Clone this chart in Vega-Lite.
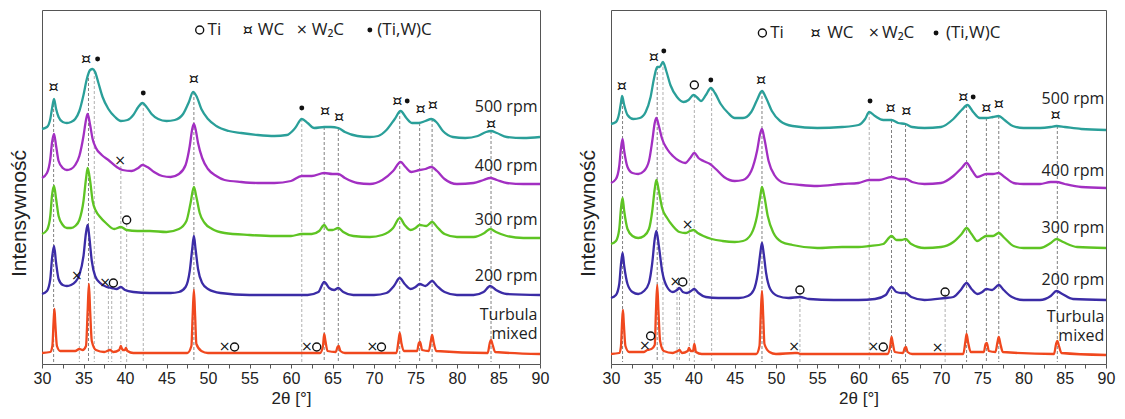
{
"$schema": "https://vega.github.io/schema/vega-lite/v6.json",
"background": "white",
"padding": {"left": 7, "top": 9, "right": 5, "bottom": 5},
"spacing": 26,
"config": {
  "view": {"stroke": "#555", "strokeWidth": 1},
  "font": "Liberation Sans",
  "axisX": {"labelFont": "Liberation Sans", "labelFontSize": 16, "labelColor": "#222", "titleFont": "Liberation Sans", "titleFontSize": 17, "titleFontWeight": "normal", "titleColor": "#222", "tickColor": "#555", "tickSize": 4, "labelPadding": 2, "titlePadding": 4, "domain": false, "grid": false, "labelFlush": false, "labelOverlap": false},
  "axisY": {"titleFont": "Liberation Sans", "titleFontSize": 21, "titleFontWeight": "normal", "titleColor": "#222", "titlePadding": 13, "titleY": 203, "labels": false, "ticks": false, "domain": false, "grid": false}
},
"datasets": {
"L": [
{"s":"500","x":30.0,"y":235},{"s":"500","x":30.6,"y":237},{"s":"500","x":31.0,"y":245},{"s":"500","x":31.2,"y":255},{"s":"500","x":31.45,"y":265},{"s":"500","x":31.7,"y":255},{"s":"500","x":32.0,"y":247},{"s":"500","x":32.5,"y":242},{"s":"500","x":33.0,"y":241},{"s":"500","x":33.5,"y":242},{"s":"500","x":34.0,"y":245},{"s":"500","x":34.5,"y":253},{"s":"500","x":35.0,"y":269},{"s":"500","x":35.4,"y":285},{"s":"500","x":35.8,"y":294},{"s":"500","x":36.1,"y":295},{"s":"500","x":36.4,"y":292},{"s":"500","x":36.8,"y":281},{"s":"500","x":37.3,"y":267},{"s":"500","x":38.0,"y":255},{"s":"500","x":38.8,"y":247},{"s":"500","x":39.5,"y":243},{"s":"500","x":40.3,"y":244},{"s":"500","x":41.0,"y":249},{"s":"500","x":41.6,"y":257},{"s":"500","x":42.1,"y":261},{"s":"500","x":42.6,"y":257},{"s":"500","x":43.2,"y":250},{"s":"500","x":44.0,"y":245},{"s":"500","x":45.0,"y":243},{"s":"500","x":46.0,"y":244},{"s":"500","x":47.0,"y":250},{"s":"500","x":47.7,"y":262},{"s":"500","x":48.2,"y":272},{"s":"500","x":48.6,"y":268},{"s":"500","x":49.2,"y":255},{"s":"500","x":50.0,"y":245},{"s":"500","x":51.0,"y":238},{"s":"500","x":52.5,"y":233},{"s":"500","x":54.0,"y":231},{"s":"500","x":56.0,"y":229},{"s":"500","x":58.0,"y":228},{"s":"500","x":59.5,"y":229},{"s":"500","x":60.5,"y":236},{"s":"500","x":61.3,"y":245},{"s":"500","x":62.0,"y":241},{"s":"500","x":62.8,"y":236},{"s":"500","x":64.0,"y":237},{"s":"500","x":64.8,"y":237},{"s":"500","x":65.7,"y":236},{"s":"500","x":66.5,"y":232},{"s":"500","x":68.0,"y":228},{"s":"500","x":69.5,"y":227},{"s":"500","x":70.5,"y":228},{"s":"500","x":71.5,"y":234},{"s":"500","x":72.5,"y":245},{"s":"500","x":73.2,"y":253},{"s":"500","x":73.9,"y":246},{"s":"500","x":74.6,"y":241},{"s":"500","x":75.4,"y":241},{"s":"500","x":76.2,"y":243},{"s":"500","x":76.9,"y":245},{"s":"500","x":77.5,"y":242},{"s":"500","x":78.3,"y":233},{"s":"500","x":79.5,"y":227},{"s":"500","x":81.0,"y":226},{"s":"500","x":82.5,"y":228},{"s":"500","x":83.5,"y":232},{"s":"500","x":84.1,"y":233},{"s":"500","x":84.8,"y":231},{"s":"500","x":86.0,"y":227},{"s":"500","x":88.0,"y":226},{"s":"500","x":90.0,"y":227},
{"s":"400","x":30.0,"y":186},{"s":"400","x":30.6,"y":191},{"s":"400","x":31.0,"y":205},{"s":"400","x":31.2,"y":221},{"s":"400","x":31.45,"y":230},{"s":"400","x":31.7,"y":218},{"s":"400","x":32.0,"y":203},{"s":"400","x":32.5,"y":196},{"s":"400","x":33.0,"y":194},{"s":"400","x":33.5,"y":195},{"s":"400","x":34.0,"y":199},{"s":"400","x":34.5,"y":208},{"s":"400","x":35.0,"y":228},{"s":"400","x":35.3,"y":244},{"s":"400","x":35.5,"y":250},{"s":"400","x":35.8,"y":239},{"s":"400","x":36.1,"y":225},{"s":"400","x":36.5,"y":216},{"s":"400","x":37.2,"y":209},{"s":"400","x":38.0,"y":204},{"s":"400","x":39.0,"y":197},{"s":"400","x":39.7,"y":194},{"s":"400","x":40.8,"y":193},{"s":"400","x":41.6,"y":196},{"s":"400","x":42.1,"y":199},{"s":"400","x":42.7,"y":197},{"s":"400","x":43.5,"y":192},{"s":"400","x":44.5,"y":188},{"s":"400","x":45.5,"y":187},{"s":"400","x":46.5,"y":190},{"s":"400","x":47.3,"y":199},{"s":"400","x":47.8,"y":218},{"s":"400","x":48.1,"y":235},{"s":"400","x":48.3,"y":240},{"s":"400","x":48.5,"y":235},{"s":"400","x":48.8,"y":221},{"s":"400","x":49.3,"y":206},{"s":"400","x":50.0,"y":195},{"s":"400","x":51.0,"y":188},{"s":"400","x":52.0,"y":184},{"s":"400","x":54.0,"y":182},{"s":"400","x":56.0,"y":181},{"s":"400","x":58.0,"y":181},{"s":"400","x":60.0,"y":183},{"s":"400","x":61.3,"y":188},{"s":"400","x":62.5,"y":188},{"s":"400","x":64.0,"y":191},{"s":"400","x":65.0,"y":190},{"s":"400","x":65.7,"y":190},{"s":"400","x":66.5,"y":186},{"s":"400","x":68.0,"y":181},{"s":"400","x":69.5,"y":180},{"s":"400","x":71.0,"y":184},{"s":"400","x":72.3,"y":193},{"s":"400","x":73.2,"y":202},{"s":"400","x":73.8,"y":197},{"s":"400","x":74.5,"y":192},{"s":"400","x":75.5,"y":194},{"s":"400","x":76.2,"y":195},{"s":"400","x":76.9,"y":197},{"s":"400","x":77.6,"y":193},{"s":"400","x":78.5,"y":185},{"s":"400","x":80.0,"y":180},{"s":"400","x":82.0,"y":181},{"s":"400","x":83.2,"y":184},{"s":"400","x":84.0,"y":186},{"s":"400","x":84.8,"y":184},{"s":"400","x":86.0,"y":181},{"s":"400","x":88.0,"y":180},{"s":"400","x":90.0,"y":180},
{"s":"300","x":30.0,"y":130},{"s":"300","x":30.6,"y":134},{"s":"300","x":31.0,"y":148},{"s":"300","x":31.2,"y":168},{"s":"300","x":31.45,"y":178},{"s":"300","x":31.7,"y":165},{"s":"300","x":32.0,"y":148},{"s":"300","x":32.5,"y":139},{"s":"300","x":33.0,"y":136},{"s":"300","x":33.5,"y":136},{"s":"300","x":34.0,"y":138},{"s":"300","x":34.5,"y":144},{"s":"300","x":35.0,"y":163},{"s":"300","x":35.3,"y":185},{"s":"300","x":35.5,"y":196},{"s":"300","x":35.8,"y":183},{"s":"300","x":36.1,"y":163},{"s":"300","x":36.5,"y":153},{"s":"300","x":37.0,"y":147},{"s":"300","x":37.7,"y":141},{"s":"300","x":38.7,"y":135},{"s":"300","x":39.5,"y":137},{"s":"300","x":40.2,"y":134},{"s":"300","x":41.5,"y":133},{"s":"300","x":43.0,"y":133},{"s":"300","x":45.0,"y":132},{"s":"300","x":46.5,"y":135},{"s":"300","x":47.4,"y":143},{"s":"300","x":47.9,"y":161},{"s":"300","x":48.3,"y":177},{"s":"300","x":48.6,"y":167},{"s":"300","x":49.0,"y":151},{"s":"300","x":49.6,"y":141},{"s":"300","x":50.5,"y":135},{"s":"300","x":52.0,"y":131},{"s":"300","x":55.0,"y":129},{"s":"300","x":58.0,"y":128},{"s":"300","x":60.0,"y":128},{"s":"300","x":61.3,"y":130},{"s":"300","x":62.5,"y":130},{"s":"300","x":63.4,"y":133},{"s":"300","x":64.0,"y":139},{"s":"300","x":64.5,"y":134},{"s":"300","x":65.0,"y":134},{"s":"300","x":65.7,"y":136},{"s":"300","x":66.3,"y":132},{"s":"300","x":67.5,"y":128},{"s":"300","x":69.5,"y":127},{"s":"300","x":71.0,"y":129},{"s":"300","x":72.3,"y":136},{"s":"300","x":73.1,"y":146},{"s":"300","x":73.7,"y":139},{"s":"300","x":74.4,"y":134},{"s":"300","x":75.0,"y":136},{"s":"300","x":75.5,"y":139},{"s":"300","x":76.3,"y":138},{"s":"300","x":77.0,"y":142},{"s":"300","x":77.6,"y":137},{"s":"300","x":78.5,"y":130},{"s":"300","x":80.0,"y":127},{"s":"300","x":82.0,"y":127},{"s":"300","x":83.3,"y":131},{"s":"300","x":84.0,"y":135},{"s":"300","x":84.7,"y":132},{"s":"300","x":86.0,"y":128},{"s":"300","x":88.0,"y":126},{"s":"300","x":90.0,"y":126},
{"s":"200","x":30.0,"y":70},{"s":"200","x":30.6,"y":73},{"s":"200","x":31.0,"y":85},{"s":"200","x":31.2,"y":105},{"s":"200","x":31.45,"y":118},{"s":"200","x":31.7,"y":101},{"s":"200","x":32.0,"y":85},{"s":"200","x":32.5,"y":79},{"s":"200","x":33.0,"y":78},{"s":"200","x":33.5,"y":79},{"s":"200","x":34.0,"y":82},{"s":"200","x":34.5,"y":89},{"s":"200","x":35.0,"y":108},{"s":"200","x":35.3,"y":131},{"s":"200","x":35.5,"y":139},{"s":"200","x":35.7,"y":127},{"s":"200","x":36.0,"y":103},{"s":"200","x":36.4,"y":88},{"s":"200","x":37.0,"y":81},{"s":"200","x":37.8,"y":77},{"s":"200","x":38.4,"y":76},{"s":"200","x":39.0,"y":75},{"s":"200","x":39.5,"y":77},{"s":"200","x":40.0,"y":74},{"s":"200","x":41.0,"y":72},{"s":"200","x":43.0,"y":71},{"s":"200","x":45.5,"y":71},{"s":"200","x":46.5,"y":72},{"s":"200","x":47.3,"y":77},{"s":"200","x":47.8,"y":93},{"s":"200","x":48.1,"y":115},{"s":"200","x":48.3,"y":128},{"s":"200","x":48.5,"y":115},{"s":"200","x":48.8,"y":95},{"s":"200","x":49.3,"y":81},{"s":"200","x":50.0,"y":75},{"s":"200","x":51.5,"y":71},{"s":"200","x":55.0,"y":69},{"s":"200","x":60.0,"y":69},{"s":"200","x":62.0,"y":69},{"s":"200","x":63.3,"y":72},{"s":"200","x":64.0,"y":82},{"s":"200","x":64.6,"y":76},{"s":"200","x":65.2,"y":74},{"s":"200","x":65.7,"y":76},{"s":"200","x":66.3,"y":72},{"s":"200","x":67.5,"y":69},{"s":"200","x":70.0,"y":69},{"s":"200","x":71.5,"y":71},{"s":"200","x":72.4,"y":78},{"s":"200","x":73.1,"y":86},{"s":"200","x":73.7,"y":80},{"s":"200","x":74.4,"y":75},{"s":"200","x":75.0,"y":77},{"s":"200","x":75.5,"y":80},{"s":"200","x":76.2,"y":78},{"s":"200","x":77.0,"y":83},{"s":"200","x":77.6,"y":78},{"s":"200","x":78.5,"y":72},{"s":"200","x":80.0,"y":69},{"s":"200","x":82.0,"y":69},{"s":"200","x":83.2,"y":72},{"s":"200","x":84.0,"y":78},{"s":"200","x":84.7,"y":74},{"s":"200","x":86.0,"y":70},{"s":"200","x":90.0,"y":69},
{"s":"T","x":30.0,"y":11},{"s":"T","x":31.0,"y":12},{"s":"T","x":31.25,"y":18},{"s":"T","x":31.4,"y":43},{"s":"T","x":31.5,"y":55},{"s":"T","x":31.6,"y":41},{"s":"T","x":31.8,"y":18},{"s":"T","x":32.2,"y":13},{"s":"T","x":34.0,"y":13},{"s":"T","x":34.5,"y":15},{"s":"T","x":34.9,"y":14},{"s":"T","x":35.3,"y":18},{"s":"T","x":35.5,"y":53},{"s":"T","x":35.65,"y":80},{"s":"T","x":35.8,"y":53},{"s":"T","x":36.0,"y":23},{"s":"T","x":36.5,"y":14},{"s":"T","x":37.5,"y":12},{"s":"T","x":38.2,"y":14},{"s":"T","x":38.6,"y":12},{"s":"T","x":39.3,"y":14},{"s":"T","x":39.5,"y":18},{"s":"T","x":39.7,"y":14},{"s":"T","x":40.0,"y":14},{"s":"T","x":40.1,"y":16},{"s":"T","x":40.3,"y":13},{"s":"T","x":41.0,"y":11},{"s":"T","x":47.5,"y":11},{"s":"T","x":48.0,"y":18},{"s":"T","x":48.15,"y":48},{"s":"T","x":48.3,"y":74},{"s":"T","x":48.45,"y":48},{"s":"T","x":48.6,"y":20},{"s":"T","x":49.2,"y":13},{"s":"T","x":50.0,"y":11},{"s":"T","x":63.5,"y":11},{"s":"T","x":63.85,"y":18},{"s":"T","x":64.0,"y":30},{"s":"T","x":64.15,"y":23},{"s":"T","x":64.4,"y":13},{"s":"T","x":65.4,"y":12},{"s":"T","x":65.6,"y":17},{"s":"T","x":65.75,"y":18},{"s":"T","x":65.95,"y":13},{"s":"T","x":66.5,"y":11},{"s":"T","x":72.7,"y":11},{"s":"T","x":72.95,"y":23},{"s":"T","x":73.1,"y":31},{"s":"T","x":73.3,"y":21},{"s":"T","x":73.6,"y":13},{"s":"T","x":75.2,"y":13},{"s":"T","x":75.4,"y":21},{"s":"T","x":75.55,"y":22},{"s":"T","x":75.8,"y":14},{"s":"T","x":76.6,"y":13},{"s":"T","x":76.85,"y":23},{"s":"T","x":77.0,"y":29},{"s":"T","x":77.2,"y":21},{"s":"T","x":77.5,"y":13},{"s":"T","x":83.7,"y":11},{"s":"T","x":83.95,"y":21},{"s":"T","x":84.1,"y":24},{"s":"T","x":84.3,"y":19},{"s":"T","x":84.6,"y":12},{"s":"T","x":90.0,"y":10}
],
"R": [
{"s":"500","x":30.0,"y":240},{"s":"500","x":30.6,"y":242},{"s":"500","x":31.0,"y":251},{"s":"500","x":31.2,"y":261},{"s":"500","x":31.35,"y":268},{"s":"500","x":31.6,"y":259},{"s":"500","x":32.0,"y":249},{"s":"500","x":32.7,"y":245},{"s":"500","x":33.5,"y":246},{"s":"500","x":34.2,"y":252},{"s":"500","x":34.8,"y":267},{"s":"500","x":35.2,"y":285},{"s":"500","x":35.6,"y":297},{"s":"500","x":35.9,"y":297},{"s":"500","x":36.3,"y":302},{"s":"500","x":36.7,"y":293},{"s":"500","x":37.2,"y":279},{"s":"500","x":38.0,"y":267},{"s":"500","x":38.8,"y":262},{"s":"500","x":39.4,"y":264},{"s":"500","x":40.0,"y":269},{"s":"500","x":40.5,"y":266},{"s":"500","x":40.9,"y":263},{"s":"500","x":41.5,"y":269},{"s":"500","x":42.1,"y":276},{"s":"500","x":42.6,"y":271},{"s":"500","x":43.3,"y":260},{"s":"500","x":44.2,"y":251},{"s":"500","x":45.0,"y":246},{"s":"500","x":46.0,"y":246},{"s":"500","x":47.0,"y":252},{"s":"500","x":47.7,"y":264},{"s":"500","x":48.3,"y":273},{"s":"500","x":48.8,"y":266},{"s":"500","x":49.5,"y":253},{"s":"500","x":50.5,"y":243},{"s":"500","x":52.0,"y":238},{"s":"500","x":55.0,"y":236},{"s":"500","x":58.0,"y":237},{"s":"500","x":60.0,"y":239},{"s":"500","x":60.8,"y":245},{"s":"500","x":61.3,"y":252},{"s":"500","x":62.0,"y":248},{"s":"500","x":63.0,"y":244},{"s":"500","x":64.0,"y":244},{"s":"500","x":64.8,"y":241},{"s":"500","x":65.7,"y":240},{"s":"500","x":66.5,"y":237},{"s":"500","x":68.0,"y":236},{"s":"500","x":70.0,"y":237},{"s":"500","x":71.5,"y":245},{"s":"500","x":72.5,"y":254},{"s":"500","x":73.2,"y":259},{"s":"500","x":73.9,"y":252},{"s":"500","x":74.7,"y":246},{"s":"500","x":75.5,"y":246},{"s":"500","x":76.3,"y":247},{"s":"500","x":77.0,"y":248},{"s":"500","x":77.7,"y":244},{"s":"500","x":78.7,"y":238},{"s":"500","x":80.0,"y":236},{"s":"500","x":82.0,"y":236},{"s":"500","x":83.3,"y":237},{"s":"500","x":84.0,"y":238},{"s":"500","x":85.0,"y":237},{"s":"500","x":87.0,"y":235},{"s":"500","x":90.0,"y":234},
{"s":"400","x":30.0,"y":181},{"s":"400","x":30.6,"y":185},{"s":"400","x":31.0,"y":198},{"s":"400","x":31.2,"y":215},{"s":"400","x":31.4,"y":225},{"s":"400","x":31.6,"y":213},{"s":"400","x":32.0,"y":197},{"s":"400","x":32.6,"y":191},{"s":"400","x":33.3,"y":190},{"s":"400","x":34.0,"y":193},{"s":"400","x":34.6,"y":203},{"s":"400","x":35.0,"y":223},{"s":"400","x":35.3,"y":241},{"s":"400","x":35.5,"y":246},{"s":"400","x":35.8,"y":238},{"s":"400","x":36.2,"y":225},{"s":"400","x":36.8,"y":215},{"s":"400","x":37.5,"y":208},{"s":"400","x":38.3,"y":203},{"s":"400","x":39.0,"y":201},{"s":"400","x":39.6,"y":206},{"s":"400","x":40.1,"y":211},{"s":"400","x":40.6,"y":206},{"s":"400","x":41.2,"y":203},{"s":"400","x":42.0,"y":200},{"s":"400","x":42.7,"y":195},{"s":"400","x":43.7,"y":187},{"s":"400","x":45.0,"y":183},{"s":"400","x":46.0,"y":184},{"s":"400","x":47.0,"y":193},{"s":"400","x":47.7,"y":213},{"s":"400","x":48.1,"y":231},{"s":"400","x":48.3,"y":235},{"s":"400","x":48.6,"y":225},{"s":"400","x":49.1,"y":203},{"s":"400","x":49.8,"y":189},{"s":"400","x":51.0,"y":181},{"s":"400","x":53.0,"y":179},{"s":"400","x":55.0,"y":178},{"s":"400","x":58.0,"y":180},{"s":"400","x":60.0,"y":181},{"s":"400","x":61.3,"y":184},{"s":"400","x":62.5,"y":184},{"s":"400","x":64.0,"y":187},{"s":"400","x":65.0,"y":185},{"s":"400","x":65.7,"y":185},{"s":"400","x":66.5,"y":182},{"s":"400","x":68.0,"y":180},{"s":"400","x":70.0,"y":181},{"s":"400","x":71.5,"y":188},{"s":"400","x":72.5,"y":196},{"s":"400","x":73.1,"y":201},{"s":"400","x":73.8,"y":193},{"s":"400","x":74.4,"y":187},{"s":"400","x":75.5,"y":190},{"s":"400","x":76.3,"y":190},{"s":"400","x":77.0,"y":191},{"s":"400","x":77.7,"y":187},{"s":"400","x":78.8,"y":181},{"s":"400","x":80.0,"y":180},{"s":"400","x":82.0,"y":180},{"s":"400","x":83.3,"y":182},{"s":"400","x":84.0,"y":182},{"s":"400","x":85.0,"y":180},{"s":"400","x":87.0,"y":177},{"s":"400","x":90.0,"y":176},
{"s":"300","x":30.0,"y":120},{"s":"300","x":30.6,"y":123},{"s":"300","x":31.0,"y":135},{"s":"300","x":31.2,"y":155},{"s":"300","x":31.4,"y":166},{"s":"300","x":31.6,"y":153},{"s":"300","x":32.0,"y":135},{"s":"300","x":32.6,"y":128},{"s":"300","x":33.3,"y":126},{"s":"300","x":34.0,"y":128},{"s":"300","x":34.6,"y":135},{"s":"300","x":35.0,"y":153},{"s":"300","x":35.3,"y":175},{"s":"300","x":35.5,"y":184},{"s":"300","x":35.8,"y":173},{"s":"300","x":36.2,"y":156},{"s":"300","x":36.8,"y":146},{"s":"300","x":37.5,"y":138},{"s":"300","x":38.3,"y":132},{"s":"300","x":39.0,"y":131},{"s":"300","x":39.6,"y":133},{"s":"300","x":40.0,"y":134},{"s":"300","x":40.5,"y":131},{"s":"300","x":41.2,"y":128},{"s":"300","x":42.2,"y":125},{"s":"300","x":43.5,"y":123},{"s":"300","x":45.0,"y":122},{"s":"300","x":46.0,"y":123},{"s":"300","x":47.0,"y":130},{"s":"300","x":47.7,"y":148},{"s":"300","x":48.1,"y":168},{"s":"300","x":48.3,"y":177},{"s":"300","x":48.6,"y":167},{"s":"300","x":49.0,"y":148},{"s":"300","x":49.7,"y":131},{"s":"300","x":50.7,"y":122},{"s":"300","x":52.0,"y":119},{"s":"300","x":55.0,"y":116},{"s":"300","x":58.0,"y":117},{"s":"300","x":60.0,"y":117},{"s":"300","x":61.3,"y":118},{"s":"300","x":63.0,"y":120},{"s":"300","x":64.0,"y":128},{"s":"300","x":64.6,"y":124},{"s":"300","x":65.2,"y":124},{"s":"300","x":65.7,"y":125},{"s":"300","x":66.4,"y":120},{"s":"300","x":68.0,"y":116},{"s":"300","x":70.0,"y":117},{"s":"300","x":71.5,"y":122},{"s":"300","x":72.5,"y":130},{"s":"300","x":73.1,"y":136},{"s":"300","x":73.7,"y":130},{"s":"300","x":74.4,"y":123},{"s":"300","x":75.0,"y":126},{"s":"300","x":75.5,"y":128},{"s":"300","x":76.3,"y":128},{"s":"300","x":77.0,"y":131},{"s":"300","x":77.7,"y":126},{"s":"300","x":78.8,"y":118},{"s":"300","x":80.0,"y":116},{"s":"300","x":82.0,"y":116},{"s":"300","x":83.3,"y":121},{"s":"300","x":84.0,"y":125},{"s":"300","x":84.8,"y":122},{"s":"300","x":86.5,"y":117},{"s":"300","x":90.0,"y":116},
{"s":"200","x":30.0,"y":66},{"s":"200","x":30.6,"y":69},{"s":"200","x":31.0,"y":80},{"s":"200","x":31.2,"y":99},{"s":"200","x":31.4,"y":111},{"s":"200","x":31.6,"y":98},{"s":"200","x":32.0,"y":80},{"s":"200","x":32.6,"y":72},{"s":"200","x":33.3,"y":70},{"s":"200","x":34.0,"y":73},{"s":"200","x":34.6,"y":81},{"s":"200","x":35.0,"y":101},{"s":"200","x":35.3,"y":125},{"s":"200","x":35.5,"y":133},{"s":"200","x":35.8,"y":118},{"s":"200","x":36.2,"y":93},{"s":"200","x":36.8,"y":77},{"s":"200","x":37.5,"y":72},{"s":"200","x":38.0,"y":74},{"s":"200","x":38.3,"y":76},{"s":"200","x":38.7,"y":72},{"s":"200","x":39.2,"y":71},{"s":"200","x":39.7,"y":73},{"s":"200","x":40.1,"y":75},{"s":"200","x":40.6,"y":71},{"s":"200","x":41.5,"y":67},{"s":"200","x":43.0,"y":66},{"s":"200","x":45.5,"y":66},{"s":"200","x":46.6,"y":68},{"s":"200","x":47.3,"y":74},{"s":"200","x":47.8,"y":91},{"s":"200","x":48.1,"y":111},{"s":"200","x":48.3,"y":121},{"s":"200","x":48.5,"y":111},{"s":"200","x":48.8,"y":91},{"s":"200","x":49.3,"y":75},{"s":"200","x":50.2,"y":68},{"s":"200","x":51.5,"y":66},{"s":"200","x":52.9,"y":67},{"s":"200","x":54.0,"y":65},{"s":"200","x":57.0,"y":64},{"s":"200","x":60.0,"y":64},{"s":"200","x":62.0,"y":65},{"s":"200","x":63.3,"y":69},{"s":"200","x":64.0,"y":77},{"s":"200","x":64.6,"y":72},{"s":"200","x":65.2,"y":71},{"s":"200","x":65.7,"y":71},{"s":"200","x":66.4,"y":67},{"s":"200","x":68.0,"y":64},{"s":"200","x":70.5,"y":66},{"s":"200","x":71.5,"y":67},{"s":"200","x":72.4,"y":74},{"s":"200","x":73.1,"y":81},{"s":"200","x":73.7,"y":75},{"s":"200","x":74.4,"y":70},{"s":"200","x":75.0,"y":72},{"s":"200","x":75.5,"y":75},{"s":"200","x":76.2,"y":74},{"s":"200","x":77.0,"y":79},{"s":"200","x":77.6,"y":74},{"s":"200","x":78.6,"y":67},{"s":"200","x":80.0,"y":64},{"s":"200","x":82.0,"y":64},{"s":"200","x":83.3,"y":68},{"s":"200","x":84.0,"y":73},{"s":"200","x":84.7,"y":70},{"s":"200","x":86.0,"y":65},{"s":"200","x":90.0,"y":64},
{"s":"T","x":30.0,"y":10},{"s":"T","x":31.0,"y":11},{"s":"T","x":31.2,"y":17},{"s":"T","x":31.35,"y":43},{"s":"T","x":31.45,"y":54},{"s":"T","x":31.55,"y":41},{"s":"T","x":31.75,"y":18},{"s":"T","x":32.2,"y":12},{"s":"T","x":34.0,"y":12},{"s":"T","x":34.4,"y":14},{"s":"T","x":34.9,"y":15},{"s":"T","x":35.3,"y":19},{"s":"T","x":35.45,"y":53},{"s":"T","x":35.6,"y":79},{"s":"T","x":35.75,"y":53},{"s":"T","x":35.95,"y":23},{"s":"T","x":36.4,"y":13},{"s":"T","x":37.5,"y":11},{"s":"T","x":38.1,"y":13},{"s":"T","x":38.3,"y":14},{"s":"T","x":38.6,"y":11},{"s":"T","x":39.3,"y":13},{"s":"T","x":39.45,"y":16},{"s":"T","x":39.65,"y":13},{"s":"T","x":39.95,"y":13},{"s":"T","x":40.1,"y":20},{"s":"T","x":40.3,"y":12},{"s":"T","x":41.0,"y":10},{"s":"T","x":47.6,"y":10},{"s":"T","x":48.0,"y":18},{"s":"T","x":48.15,"y":48},{"s":"T","x":48.3,"y":73},{"s":"T","x":48.45,"y":48},{"s":"T","x":48.6,"y":20},{"s":"T","x":49.2,"y":12},{"s":"T","x":50.0,"y":10},{"s":"T","x":52.3,"y":11},{"s":"T","x":52.6,"y":11},{"s":"T","x":53.0,"y":10},{"s":"T","x":63.5,"y":10},{"s":"T","x":63.85,"y":18},{"s":"T","x":64.0,"y":27},{"s":"T","x":64.15,"y":21},{"s":"T","x":64.4,"y":12},{"s":"T","x":65.4,"y":11},{"s":"T","x":65.6,"y":16},{"s":"T","x":65.75,"y":17},{"s":"T","x":65.95,"y":12},{"s":"T","x":66.5,"y":10},{"s":"T","x":72.7,"y":10},{"s":"T","x":72.95,"y":22},{"s":"T","x":73.1,"y":30},{"s":"T","x":73.3,"y":21},{"s":"T","x":73.6,"y":12},{"s":"T","x":75.2,"y":12},{"s":"T","x":75.4,"y":20},{"s":"T","x":75.55,"y":21},{"s":"T","x":75.8,"y":13},{"s":"T","x":76.6,"y":12},{"s":"T","x":76.85,"y":22},{"s":"T","x":77.0,"y":27},{"s":"T","x":77.2,"y":20},{"s":"T","x":77.5,"y":12},{"s":"T","x":83.7,"y":10},{"s":"T","x":83.95,"y":20},{"s":"T","x":84.1,"y":23},{"s":"T","x":84.3,"y":18},{"s":"T","x":84.6,"y":11},{"s":"T","x":90.0,"y":9}
],
"refL": [
{"x":31.4,"y":265,"b":2,"ph":"WC"},{"x":34.5,"y":83,"b":2,"ph":"W2C"},{"x":35.6,"y":291,"b":2,"ph":"WC"},{"x":36.3,"y":293,"b":2,"ph":"TiWC"},{"x":38.0,"y":78,"b":2,"ph":"W2C"},{"x":38.4,"y":78,"b":2,"ph":"Ti"},{"x":39.5,"y":198,"b":2,"ph":"W2C"},{"x":40.2,"y":140,"b":2,"ph":"Ti"},{"x":42.2,"y":261,"b":2,"ph":"TiWC"},{"x":48.3,"y":272,"b":2,"ph":"WC"},{"x":61.3,"y":245,"b":2,"ph":"TiWC"},{"x":64.0,"y":237,"b":2,"ph":"WC"},{"x":65.7,"y":236,"b":2,"ph":"WC"},{"x":73.1,"y":253,"b":2,"ph":"WC"},{"x":75.5,"y":241,"b":2,"ph":"WC"},{"x":77.0,"y":245,"b":2,"ph":"WC"},{"x":84.1,"y":233,"b":2,"ph":"WC"}
],
"refR": [
{"x":31.4,"y":268,"b":2,"ph":"WC"},{"x":35.6,"y":297,"b":2,"ph":"WC"},{"x":36.3,"y":302,"b":2,"ph":"TiWC"},{"x":38.0,"y":77,"b":2,"ph":"W2C"},{"x":38.3,"y":77,"b":2,"ph":"Ti"},{"x":39.5,"y":136,"b":2,"ph":"W2C"},{"x":40.1,"y":269,"b":2,"ph":"Ti"},{"x":42.2,"y":276,"b":2,"ph":"TiWC"},{"x":48.3,"y":273,"b":2,"ph":"WC"},{"x":52.9,"y":70,"b":2,"ph":"Ti"},{"x":61.3,"y":252,"b":2,"ph":"TiWC"},{"x":64.0,"y":244,"b":2,"ph":"WC"},{"x":65.7,"y":240,"b":2,"ph":"WC"},{"x":70.5,"y":70,"b":2,"ph":"Ti"},{"x":73.1,"y":259,"b":2,"ph":"WC"},{"x":75.5,"y":246,"b":2,"ph":"WC"},{"x":77.0,"y":248,"b":2,"ph":"WC"},{"x":84.1,"y":238,"b":2,"ph":"WC"}
],
"symL": [
{"x":31.4,"y":277,"t":"¤"},{"x":35.3,"y":305,"t":"¤"},{"x":36.7,"y":305,"t":"•"},{"x":42.2,"y":271,"t":"•"},{"x":48.3,"y":285,"t":"¤"},{"x":61.3,"y":256,"t":"•"},{"x":64.1,"y":253,"t":"¤"},{"x":65.8,"y":247,"t":"¤"},{"x":72.8,"y":263,"t":"¤"},{"x":74.0,"y":263,"t":"•"},{"x":75.6,"y":255,"t":"¤"},{"x":77.1,"y":259,"t":"¤"},{"x":84.1,"y":240,"t":"¤"},{"x":39.4,"y":203,"t":"×"},{"x":40.2,"y":144,"t":"○"},{"x":34.2,"y":88,"t":"×"},{"x":37.6,"y":81,"t":"×"},{"x":38.6,"y":81,"t":"○"},{"x":52.0,"y":17,"t":"×"},{"x":53.2,"y":17,"t":"○"},{"x":61.9,"y":17,"t":"×"},{"x":63.1,"y":17,"t":"○"},{"x":69.8,"y":17,"t":"×"},{"x":70.9,"y":17,"t":"○"},
{"x":49.0,"y":334,"t":"○"},{"x":54.8,"y":334,"t":"¤"},{"x":61.3,"y":334,"t":"×"},{"x":69.5,"y":334,"t":"•"}
],
"symR": [
{"x":31.3,"y":278,"t":"¤"},{"x":35.2,"y":307,"t":"¤"},{"x":36.4,"y":313,"t":"•"},{"x":40.1,"y":279,"t":"○"},{"x":42.1,"y":284,"t":"•"},{"x":48.2,"y":284,"t":"¤"},{"x":61.4,"y":263,"t":"•"},{"x":63.9,"y":256,"t":"¤"},{"x":65.8,"y":253,"t":"¤"},{"x":72.7,"y":267,"t":"¤"},{"x":73.9,"y":267,"t":"•"},{"x":75.5,"y":256,"t":"¤"},{"x":77.0,"y":260,"t":"¤"},{"x":83.9,"y":249,"t":"¤"},{"x":39.3,"y":139,"t":"×"},{"x":37.8,"y":82,"t":"×"},{"x":38.7,"y":82,"t":"○"},{"x":52.9,"y":74,"t":"○"},{"x":70.5,"y":72,"t":"○"},{"x":34.1,"y":18,"t":"×"},{"x":34.8,"y":28,"t":"○"},{"x":52.2,"y":17,"t":"×"},{"x":61.8,"y":17,"t":"×"},{"x":63.0,"y":17,"t":"○"},{"x":69.6,"y":16,"t":"×"},
{"x":48.35,"y":331,"t":"○"},{"x":54.8,"y":331,"t":"¤"},{"x":61.85,"y":331,"t":"×"},{"x":69.4,"y":331,"t":"•"}
],
"labL": [
{"x":89.7,"y":257,"t":"500 rpm"},{"x":89.7,"y":198,"t":"400 rpm"},{"x":89.7,"y":144,"t":"300 rpm"},{"x":89.7,"y":88,"t":"200 rpm"},{"x":89.7,"y":49,"t":"Turbula"},{"x":89.7,"y":30,"t":"mixed"}
],
"labR": [
{"x":89.8,"y":265,"t":"500 rpm"},{"x":89.8,"y":193,"t":"400 rpm"},{"x":89.8,"y":136,"t":"300 rpm"},{"x":89.8,"y":84,"t":"200 rpm"},{"x":89.8,"y":47,"t":"Turbula"},{"x":89.8,"y":28,"t":"mixed"}
],
"legL": [
{"x":49.95,"y":334,"t":"Ti"},{"x":56.0,"y":334,"t":"WC"},{"x":62.5,"y":334,"t":"W₂C"},{"x":70.4,"y":334,"t":"(Ti,W)C"}
],
"legR": [
{"x":49.3,"y":331,"t":"Ti"},{"x":56.2,"y":331,"t":"WC"},{"x":62.85,"y":331,"t":"W₂C"},{"x":70.6,"y":331,"t":"(Ti,W)C"}
]
},
"hconcat": [
{
"width": 498, "height": 354,
"encoding": {
  "x": {"field": "x", "type": "quantitative", "scale": {"domain": [30, 90], "nice": false, "zero": false}, "axis": {"title": "2θ [°]", "values": [30,32.5,35,37.5,40,42.5,45,47.5,50,52.5,55,57.5,60,62.5,65,67.5,70,72.5,75,77.5,80,82.5,85,87.5,90], "labelExpr": "datum.value % 5 === 0 ? datum.label : ''"}},
  "y": {"field": "y", "type": "quantitative", "scale": {"domain": [0, 354], "nice": false, "zero": false}, "axis": {"title": "Intensywność"}}
},
"layer": [
  {"data": {"name": "refL"}, "mark": {"type": "rule", "strokeDash": [3, 2], "strokeWidth": 1}, "encoding": {"y2": {"field": "b"}, "color": {"field": "ph", "type": "nominal", "scale": {"domain": ["WC", "Ti", "W2C", "TiWC"], "range": ["#808080", "#b0b0b0", "#b0b0b0", "#b0b0b0"]}, "legend": null}}},
  {"data": {"name": "L"}, "mark": {"type": "line", "strokeWidth": 2.3, "interpolate": "monotone"}, "encoding": {"color": {"field": "s", "type": "nominal", "scale": {"domain": ["500", "400", "300", "200", "T"], "range": ["#2a9f99", "#a22fc2", "#5ec423", "#3b2ca6", "#f0481e"]}, "legend": null}}},
  {"data": {"name": "symL"}, "transform": [{"filter": "datum.t === '¤'"}], "mark": {"type": "text", "font": "DejaVu Sans", "fontSize": 16, "color": "#111", "baseline": "middle"}, "encoding": {"text": {"field": "t"}}},
  {"data": {"name": "symL"}, "transform": [{"filter": "datum.t === '×'"}], "mark": {"type": "text", "font": "DejaVu Sans", "fontSize": 14, "color": "#111", "baseline": "middle"}, "encoding": {"text": {"field": "t"}}},
  {"data": {"name": "symL"}, "transform": [{"filter": "datum.t === '○'"}], "mark": {"type": "point", "shape": "circle", "filled": false, "size": 64, "strokeWidth": 1.4, "color": "#111", "opacity": 1}},
  {"data": {"name": "symL"}, "transform": [{"filter": "datum.t === '•'"}], "mark": {"type": "point", "shape": "circle", "filled": true, "size": 24, "color": "#111", "opacity": 1}},
  {"data": {"name": "labL"}, "mark": {"type": "text", "font": "Open Sans", "fontSize": 16, "color": "#222", "align": "right", "baseline": "middle"}, "encoding": {"text": {"field": "t"}}},
  {"data": {"name": "legL"}, "mark": {"type": "text", "font": "Open Sans", "fontSize": 17, "color": "#222", "align": "left", "baseline": "middle"}, "encoding": {"text": {"field": "t"}}}
],
"resolve": {"scale": {"color": "independent"}}
},
{
"width": 495, "height": 354,
"encoding": {
  "x": {"field": "x", "type": "quantitative", "scale": {"domain": [30, 90], "nice": false, "zero": false}, "axis": {"title": "2θ [°]", "values": [30,32.5,35,37.5,40,42.5,45,47.5,50,52.5,55,57.5,60,62.5,65,67.5,70,72.5,75,77.5,80,82.5,85,87.5,90], "labelExpr": "datum.value % 5 === 0 ? datum.label : ''"}},
  "y": {"field": "y", "type": "quantitative", "scale": {"domain": [0, 354], "nice": false, "zero": false}, "axis": {"title": "Intensywność"}}
},
"layer": [
  {"data": {"name": "refR"}, "mark": {"type": "rule", "strokeDash": [3, 2], "strokeWidth": 1}, "encoding": {"y2": {"field": "b"}, "color": {"field": "ph", "type": "nominal", "scale": {"domain": ["WC", "Ti", "W2C", "TiWC"], "range": ["#808080", "#b0b0b0", "#b0b0b0", "#b0b0b0"]}, "legend": null}}},
  {"data": {"name": "R"}, "mark": {"type": "line", "strokeWidth": 2.3, "interpolate": "monotone"}, "encoding": {"color": {"field": "s", "type": "nominal", "scale": {"domain": ["500", "400", "300", "200", "T"], "range": ["#2a9f99", "#a22fc2", "#5ec423", "#3b2ca6", "#f0481e"]}, "legend": null}}},
  {"data": {"name": "symR"}, "transform": [{"filter": "datum.t === '¤'"}], "mark": {"type": "text", "font": "DejaVu Sans", "fontSize": 16, "color": "#111", "baseline": "middle"}, "encoding": {"text": {"field": "t"}}},
  {"data": {"name": "symR"}, "transform": [{"filter": "datum.t === '×'"}], "mark": {"type": "text", "font": "DejaVu Sans", "fontSize": 14, "color": "#111", "baseline": "middle"}, "encoding": {"text": {"field": "t"}}},
  {"data": {"name": "symR"}, "transform": [{"filter": "datum.t === '○'"}], "mark": {"type": "point", "shape": "circle", "filled": false, "size": 64, "strokeWidth": 1.4, "color": "#111", "opacity": 1}},
  {"data": {"name": "symR"}, "transform": [{"filter": "datum.t === '•'"}], "mark": {"type": "point", "shape": "circle", "filled": true, "size": 24, "color": "#111", "opacity": 1}},
  {"data": {"name": "labR"}, "mark": {"type": "text", "font": "Open Sans", "fontSize": 16, "color": "#222", "align": "right", "baseline": "middle"}, "encoding": {"text": {"field": "t"}}},
  {"data": {"name": "legR"}, "mark": {"type": "text", "font": "Open Sans", "fontSize": 17, "color": "#222", "align": "left", "baseline": "middle"}, "encoding": {"text": {"field": "t"}}}
],
"resolve": {"scale": {"color": "independent"}}
}
]
}
